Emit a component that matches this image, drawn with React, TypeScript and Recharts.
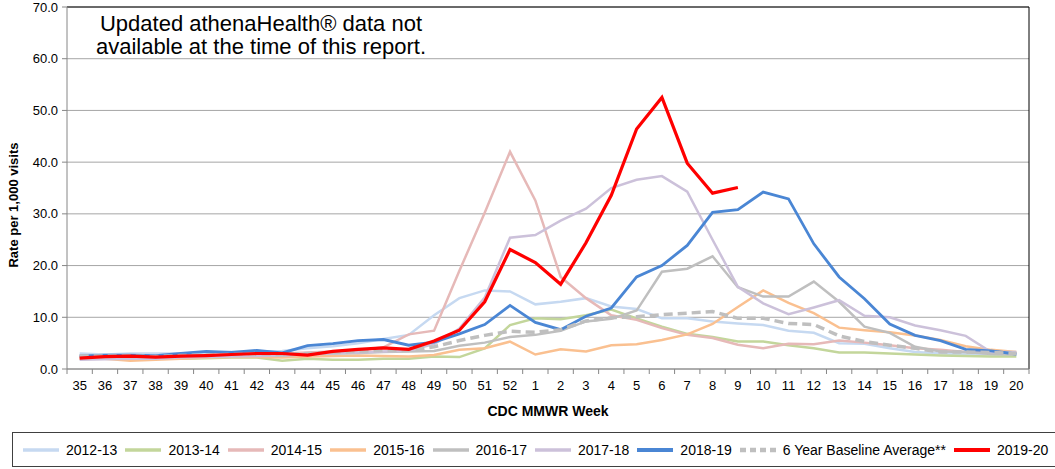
import { LineChart, Line, XAxis, YAxis, CartesianGrid } from 'recharts'

const weeks = [
  '35', '36', '37', '38', '39', '40', '41', '42', '43', '44', '45', '46', '47', '48', '49', '50', '51', '52',
  '1', '2', '3', '4', '5', '6', '7', '8', '9', '10', '11', '12', '13', '14', '15', '16', '17', '18', '19', '20',
]

const s2012 = [3.0, 2.8, 3.0, 3.0, 3.0, 3.2, 3.3, 3.4, 3.5, 4.0, 4.4, 5.0, 5.8, 6.6, 10.4, 13.7, 15.2, 15.0, 12.5, 13.0, 13.7, 12.1, 11.6, 9.8, 9.8, 9.2, 8.8, 8.5, 7.4, 7.0, 5.0, 4.9, 4.0, 3.3, 3.0, 2.9, 2.8, 2.8]
const s2013 = [2.2, 2.2, 2.2, 2.1, 2.0, 2.1, 2.2, 2.2, 1.6, 2.0, 1.8, 1.8, 2.0, 2.0, 2.4, 2.3, 4.0, 8.5, 9.8, 9.6, 10.4, 11.5, 9.8, 8.2, 6.8, 6.2, 5.3, 5.3, 4.6, 4.0, 3.2, 3.2, 3.0, 2.8, 2.6, 2.5, 2.4, 2.4]
const s2014 = [2.3, 2.2, 2.3, 2.2, 2.4, 2.5, 2.6, 2.8, 3.0, 3.2, 3.4, 3.6, 4.2, 6.7, 7.4, 19.0, 30.2, 42.0, 32.6, 17.8, 13.7, 10.4, 9.5, 7.9, 6.6, 6.0, 4.7, 4.0, 4.9, 4.8, 5.5, 5.1, 4.6, 4.0, 3.7, 3.3, 3.2, 3.1]
const s2015 = [2.0, 2.0, 1.6, 1.8, 2.0, 2.2, 2.3, 2.3, 2.2, 2.4, 2.5, 2.6, 2.5, 2.4, 2.7, 3.7, 4.0, 5.3, 2.8, 3.8, 3.4, 4.6, 4.8, 5.6, 6.7, 8.7, 12.0, 15.2, 12.8, 10.8, 8.0, 7.5, 7.1, 6.5, 5.6, 4.4, 3.7, 3.3]
const s2016 = [2.6, 2.5, 2.4, 2.4, 2.6, 2.7, 2.7, 2.8, 2.6, 2.9, 3.0, 3.1, 3.3, 3.4, 3.5, 4.5, 5.1, 6.2, 6.6, 7.4, 9.2, 9.7, 11.3, 18.8, 19.4, 21.8, 15.8, 14.0, 14.0, 16.9, 13.0, 8.2, 7.0, 4.3, 3.4, 3.3, 2.9, 2.8]
const s2017 = [1.8, 1.9, 2.0, 2.0, 2.2, 2.3, 2.4, 2.5, 2.6, 2.8, 3.0, 3.2, 3.4, 3.6, 4.8, 7.8, 13.8, 25.4, 25.9, 28.7, 31.0, 35.0, 36.6, 37.3, 34.3, 25.0, 15.9, 12.7, 10.6, 11.9, 13.3, 10.3, 10.0, 8.4, 7.5, 6.4, 3.3, 3.3]
const s2018 = [2.5, 2.7, 2.7, 2.6, 3.0, 3.4, 3.2, 3.6, 3.1, 4.5, 4.9, 5.5, 5.7, 4.6, 5.2, 6.8, 8.6, 12.3, 9.0, 7.6, 10.2, 11.8, 17.8, 20.0, 23.9, 30.3, 30.8, 34.2, 32.9, 24.2, 17.8, 13.6, 8.7, 6.5, 5.5, 3.8, 3.5, 2.9]
const baseline = [2.5, 2.5, 2.5, 2.4, 2.6, 2.7, 2.8, 2.9, 2.8, 3.0, 3.2, 3.4, 3.6, 3.6, 4.3, 5.5, 6.5, 7.3, 7.1, 7.6, 9.3, 9.9, 10.1, 10.5, 10.8, 11.1, 9.8, 9.8, 8.8, 8.6, 6.4, 5.3, 4.6, 4.0, 3.3, 3.3, 3.2, 3.0]
const s2019 = [2.1, 2.4, 2.5, 2.3, 2.5, 2.6, 2.8, 3.0, 3.0, 2.7, 3.4, 3.8, 4.1, 3.8, 5.4, 7.5, 13.0, 23.1, 20.6, 16.4, 24.4, 33.6, 46.4, 52.5, 39.8, 34.0, 35.1]

const yTicks = [0, 10, 20, 30, 40, 50, 60, 70]

const series = [
  { key: 's2012', name: '2012-13', values: s2012, color: '#c6d9f1', width: 2.5 },
  { key: 's2013', name: '2013-14', values: s2013, color: '#c3d69b', width: 2.5 },
  { key: 's2014', name: '2014-15', values: s2014, color: '#e6b9b8', width: 2.5 },
  { key: 's2015', name: '2015-16', values: s2015, color: '#fac090', width: 2.5 },
  { key: 's2016', name: '2016-17', values: s2016, color: '#bfbfbf', width: 2.5 },
  { key: 's2017', name: '2017-18', values: s2017, color: '#ccc1da', width: 2.5 },
  { key: 's2018', name: '2018-19', values: s2018, color: '#4a86d4', width: 2.8 },
  { key: 'baseline', name: '6 Year Baseline Average**', values: baseline, color: '#bfbfbf', width: 3.5, dash: '9 5' },
  { key: 's2019', name: '2019-20', values: s2019, color: '#ff0000', width: 3.2 },
]

const data = weeks.map((week, i) => {
  const row: Record<string, string | number | null> = { week }
  series.forEach((s) => {
    row[s.key] = i < s.values.length ? s.values[i] : null
  })
  return row
})

const FONT = "'Liberation Sans', Arial, sans-serif"
const PLOT_LEFT = 67
const PLOT_RIGHT = 1029
const PLOT_BOTTOM = 369
const BAND = (PLOT_RIGHT - PLOT_LEFT) / weeks.length

function WeekTick({ x, payload, index }: any) {
  const left = x - BAND / 2
  return (
    <g>
      <line x1={left} x2={left} y1={PLOT_BOTTOM} y2={PLOT_BOTTOM + 5} stroke="#868686" />
      {index === weeks.length - 1 && (
        <line x1={x + BAND / 2} x2={x + BAND / 2} y1={PLOT_BOTTOM} y2={PLOT_BOTTOM + 5} stroke="#868686" />
      )}
      <text x={x} y={PLOT_BOTTOM + 21} textAnchor="middle" fontSize={13} fill="#000" fontFamily={FONT}>
        {payload.value}
      </text>
    </g>
  )
}

function RateLabel() {
  return (
    <text
      x={18}
      y={205}
      transform="rotate(-90, 18, 205)"
      textAnchor="middle"
      fontSize={13}
      fontWeight="bold"
      fill="#000"
      fontFamily={FONT}
    >
      Rate per 1,000 visits
    </text>
  )
}

function Swatch({ color, dash, width }: { color: string; dash?: string; width: number }) {
  return (
    <svg width={36} height={8} style={{ marginRight: 7 }}>
      <line x1={0} x2={36} y1={4} y2={4} stroke={color} strokeWidth={width + 1} strokeDasharray={dash} />
    </svg>
  )
}

export default function App() {
  return (
    <div style={{ position: 'absolute', left: 0, top: 0, width: 1055, height: 469, fontFamily: FONT, background: '#fff' }}>
      <LineChart width={1055} height={469} data={data} margin={{ top: 7, right: 1055 - PLOT_RIGHT, bottom: 50, left: 0 }}>
        <CartesianGrid vertical={false} stroke="#a6a6a6" />
        <CartesianGrid
          stroke="#000"
          horizontalCoordinatesGenerator={({ offset }: any) => [offset.top]}
          verticalCoordinatesGenerator={({ offset }: any) => [offset.left + offset.width]}
        />
        <XAxis
          dataKey="week"
          height={50}
          interval={0}
          padding={{ left: BAND / 2, right: BAND / 2 }}
          axisLine={{ stroke: '#868686' }}
          tickLine={false}
          tick={<WeekTick />}
          label={{ value: 'CDC MMWR  Week', position: 'insideBottom', offset: 3, fontSize: 14, fontWeight: 'bold', fill: '#000', fontFamily: FONT }}
        />
        <YAxis
          width={PLOT_LEFT}
          domain={[0, 70]}
          ticks={yTicks}
          interval={0}
          tickFormatter={(v: number) => v.toFixed(1)}
          axisLine={{ stroke: '#868686' }}
          tickLine={{ stroke: '#868686' }}
          tickSize={5}
          tickMargin={4}
          tick={{ fontSize: 13, fill: '#000', fontFamily: FONT }}
          label={<RateLabel />}
        />
        {series.map((s) => (
          <Line
            key={s.key}
            type="linear"
            dataKey={s.key}
            name={s.name}
            stroke={s.color}
            strokeWidth={s.width}
            strokeDasharray={s.dash}
            dot={false}
            activeDot={false}
            connectNulls={false}
            isAnimationActive={false}
          />
        ))}
      </LineChart>

      <div
        style={{
          position: 'absolute',
          left: 91,
          top: 12,
          width: 340,
          textAlign: 'center',
          fontSize: 22,
          lineHeight: '23px',
          color: '#000',
        }}
      >
        Updated athenaHealth® data not
        <br />
        available at the time of this report.
      </div>

      <div
        style={{
          position: 'absolute',
          left: 12,
          top: 432,
          width: 1070,
          height: 35,
          border: '1px solid #404040',
          display: 'flex',
          alignItems: 'center',
          paddingLeft: 10,
          boxSizing: 'border-box',
          fontSize: 14,
          color: '#000',
          whiteSpace: 'nowrap',
        }}
      >
        {series.map((s) => (
          <div key={s.key} style={{ display: 'flex', alignItems: 'center', marginRight: 8 }}>
            <Swatch color={s.color} dash={s.dash ? '6 4' : undefined} width={s.width} />
            <span>{s.name}</span>
          </div>
        ))}
      </div>
    </div>
  )
}
